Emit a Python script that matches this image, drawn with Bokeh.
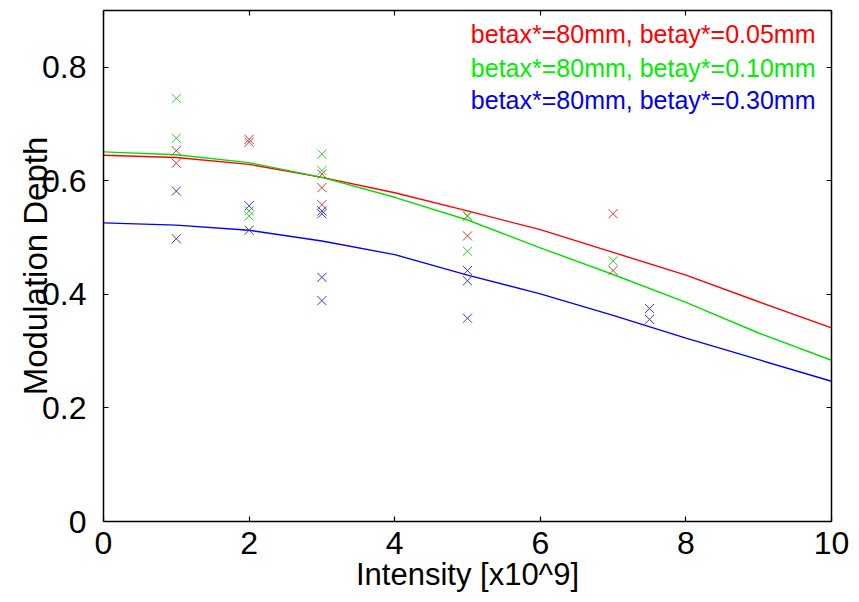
from bokeh.plotting import figure
from bokeh.models import Range1d, LinearAxis, FixedTicker, Label
from bokeh.embed import file_html
from bokeh.resources import INLINE

# ---- data ----
curve_x = [0, 1, 2, 3, 4, 5, 6, 7, 8, 9, 10]
curve_red = [0.645, 0.641, 0.629, 0.606, 0.579, 0.547, 0.514, 0.474, 0.434, 0.387, 0.341]
curve_green = [0.651, 0.646, 0.632, 0.606, 0.571, 0.531, 0.482, 0.435, 0.386, 0.332, 0.284]
curve_blue = [0.526, 0.522, 0.513, 0.494, 0.470, 0.434, 0.401, 0.363, 0.323, 0.285, 0.247]

red_x = [1, 1, 2, 2, 3, 3, 3, 5, 5, 7, 7]
red_y = [0.653, 0.631, 0.673, 0.668, 0.612, 0.588, 0.558, 0.538, 0.503, 0.542, 0.442]
green_x = [1, 1, 2, 2, 3, 3, 5, 5, 7]
green_y = [0.745, 0.675, 0.547, 0.538, 0.647, 0.618, 0.538, 0.476, 0.459]
blue_x = [1, 1, 2, 2, 3, 3, 3, 3, 5, 5, 5, 7.5, 7.5]
blue_y = [0.582, 0.498, 0.556, 0.513, 0.547, 0.542, 0.430, 0.389, 0.442, 0.424, 0.358, 0.375, 0.356]

legend_labels = ["betax*=80mm, betay*=0.05mm",
                 "betax*=80mm, betay*=0.10mm",
                 "betax*=80mm, betay*=0.30mm"]
legend_y = [0.858, 0.799, 0.743]

x_ticks = [0, 2, 4, 6, 8, 10]
y_ticks = [0, 0.2, 0.4, 0.6, 0.8]
y_tick_labels = ["0", "0.2", "0.4", "0.6", "0.8"]

FONT = "Liberation Sans"

p = figure(width=859, height=602, output_backend="svg", toolbar_location=None,
           x_range=Range1d(0, 10), y_range=Range1d(0, 0.9),
           min_border_left=103, min_border_right=28, min_border_top=10, min_border_bottom=81,
           x_axis_label="Intensity [x10^9]", y_axis_label="Modulation Depth")
p.outline_line_color = None
p.grid.visible = False
p.background_fill_color = "white"
p.border_fill_color = "white"

for ax in (p.xaxis[0], p.yaxis[0]):
    ax.major_tick_in = 5
    ax.major_tick_out = 0
    ax.minor_tick_in = 0
    ax.minor_tick_out = 0
    ax.axis_line_width = 1.5
    ax.axis_line_color = "black"
    ax.major_tick_line_width = 1.2
    ax.major_label_text_font = FONT
    ax.major_label_text_font_size = "32px"
    ax.major_label_text_color = "black"
    ax.axis_label_text_font = FONT
    ax.axis_label_text_font_style = "normal"
    ax.axis_label_text_color = "black"

p.xaxis[0].axis_label_text_font_size = "31px"
p.yaxis[0].axis_label_text_font_size = "33px"
p.xaxis[0].ticker = FixedTicker(ticks=x_ticks)
p.yaxis[0].ticker = FixedTicker(ticks=y_ticks)
p.yaxis[0].major_label_overrides = dict(zip(y_ticks, y_tick_labels))
p.xaxis[0].major_label_standoff = 10
p.xaxis[0].axis_label_standoff = 0
p.yaxis[0].major_label_standoff = 17
p.yaxis[0].axis_label_standoff = -15

for loc, ticks in (("above", x_ticks), ("right", y_ticks)):
    ax = LinearAxis(ticker=FixedTicker(ticks=ticks))
    ax.major_tick_in = 5
    ax.major_tick_out = 0
    ax.minor_tick_in = 0
    ax.minor_tick_out = 0
    ax.axis_line_width = 1.5
    ax.major_tick_line_width = 1.2
    ax.major_label_overrides = {t: "" for t in ticks}
    ax.major_label_standoff = 0
    p.add_layout(ax, loc)

# fitted curves
p.line(curve_x, curve_red, line_color="#ff0000", line_width=1.4)
p.line(curve_x, curve_green, line_color="#00e000", line_width=1.4)
p.line(curve_x, curve_blue, line_color="#0000ff", line_width=1.4)

# measurements
p.scatter(red_x, red_y, marker="x", size=13, line_color="#d03838", line_width=1)
p.scatter(green_x, green_y, marker="x", size=13, line_color="#30d030", line_width=1)
p.scatter(blue_x, blue_y, marker="x", size=13, line_color="#3838c8", line_width=1)

for txt, yy, col in zip(legend_labels, legend_y, ["#ff0000", "#00ee00", "#0000ee"]):
    p.add_layout(Label(x=9.78, y=yy, text=txt, text_align="right", text_baseline="alphabetic",
                       text_font=FONT, text_font_size="25px", text_color=col))

open("out.html", "w").write(file_html(p, INLINE))
